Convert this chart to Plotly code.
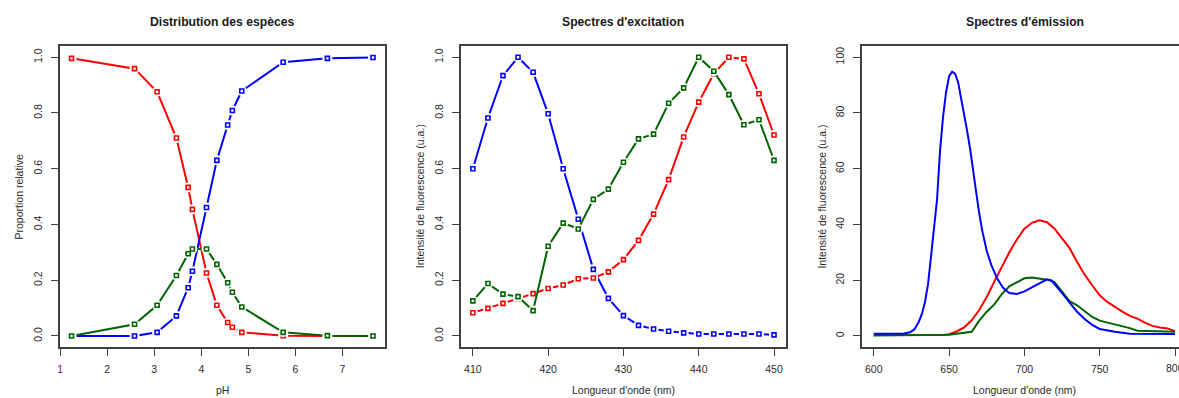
import plotly.graph_objects as go

W, H = 1179, 398

# ---------------- data ----------------
ph = [1.24, 2.58, 3.06, 3.47, 3.72, 3.81, 4.11, 4.33, 4.56, 4.66, 4.86, 5.74, 6.68, 7.65]
frac_red = [0.996, 0.959, 0.876, 0.710, 0.533, 0.454, 0.226, 0.110, 0.048, 0.031, 0.013, 0.001, 0.0, 0.0]
frac_blue = [0.0, 0.0, 0.013, 0.072, 0.173, 0.232, 0.461, 0.630, 0.757, 0.809, 0.879, 0.982, 0.996, 0.999]
frac_green = [0.0, 0.042, 0.110, 0.217, 0.295, 0.312, 0.312, 0.257, 0.191, 0.157, 0.104, 0.013, 0.001, 0.0]

exc_nm = [410, 412, 414, 416, 418, 420, 422, 424, 426, 428, 430,
          432, 434, 436, 438, 440, 442, 444, 446, 448, 450]
exc_blue = [0.600, 0.782, 0.934, 1.000, 0.946, 0.797, 0.600, 0.419, 0.239, 0.135, 0.073,
            0.038, 0.025, 0.017, 0.011, 0.007, 0.007, 0.007, 0.007, 0.007, 0.004]
exc_red = [0.083, 0.099, 0.117, 0.134, 0.152, 0.170, 0.183, 0.205, 0.208, 0.230, 0.274,
           0.343, 0.437, 0.561, 0.714, 0.839, 0.941, 1.000, 0.994, 0.869, 0.721]
exc_green = [0.126, 0.188, 0.150, 0.141, 0.091, 0.322, 0.405, 0.384, 0.490, 0.527, 0.623,
             0.707, 0.724, 0.835, 0.890, 1.000, 0.950, 0.866, 0.758, 0.776, 0.630]

em_nm = [600, 605, 610, 615, 620, 625, 630, 635, 640, 645, 650, 655, 660, 665, 670,
         675, 680, 685, 690, 695, 700, 705, 710, 715, 720, 725, 730, 735, 740, 745,
         750, 755, 760, 765, 770, 775, 780, 785, 790, 795, 800]
em_red = [0.3, 0.3, 0.3, 0.3, 0.3, 0.3, 0.3, 0.3, 0.3, 0.3, 0.6, 1.6, 3.1, 5.6, 9.3,
          14.0, 19.5, 24.8, 30.0, 34.6, 38.5, 40.6, 41.5, 40.8, 38.5, 35.0, 31.5, 26.5, 22.0, 18.2,
          14.6, 12.2, 10.3, 8.7, 7.2, 6.2, 4.8, 3.6, 3.0, 2.7, 1.7]
em_green = [0.2, 0.2, 0.2, 0.2, 0.2, 0.2, 0.2, 0.2, 0.2, 0.2, 0.4, 0.8, 1.1, 1.5, 5.5,
            8.7, 11.3, 15.0, 17.8, 19.2, 20.7, 21.0, 20.6, 20.2, 19.3, 16.0, 12.5, 11.0, 9.0, 6.8,
            5.5, 4.8, 4.2, 3.6, 2.8, 1.9, 1.8, 1.6, 1.5, 1.5, 1.5]
em_blue_nm = [600, 610, 620, 624, 627, 630, 632, 634, 636, 638, 640, 642, 644, 646, 648,
              650, 652, 654, 656, 658, 660, 662, 664, 666, 668, 670, 672, 675, 678, 682,
              686, 690, 695, 700, 705, 710, 715, 718, 722, 726, 730, 735, 740, 745, 750,
              755, 760, 770, 780, 790, 800]
em_blue = [0.8, 0.8, 0.9, 1.3, 2.4, 5.2, 8.0, 12.2, 18.5, 28.5, 39.5, 49.0, 66.5, 78.7, 87.5,
           93.2, 94.8, 94.0, 91.0, 85.5, 79.5, 73.5, 67.0, 60.0, 51.5, 44.0, 37.8, 30.5, 25.5, 20.5,
           17.2, 15.4, 15.1, 16.0, 17.5, 19.0, 20.3, 19.9, 17.5, 14.7, 12.0, 8.7, 6.1, 4.0, 2.5,
           1.9, 1.5, 0.8, 0.7, 0.7, 0.7]

titles = ["Distribution des espèces", "Spectres d'excitation", "Spectres d'émission"]
xtitles = ["pH", "Longueur d'onde (nm)", "Longueur d'onde (nm)"]
ytitles = ["Proportion relative", "Intensité de fluorescence (u.a.)", "Intensité de fluorescence (u.a.)"]

RED, BLUE, GREEN = "#FF0000", "#0000FF", "#006400"

# ---------------- layout helpers ----------------
def px(x):
    return x / W

def py(y):
    return (H - y) / H

y_dom = [py(347.1), py(46.1)]
x_doms = [[px(57.7), px(384.0)], [px(459.3), px(785.7)], [px(861.2), 1.0]]
x_ranges = [[0.987, 7.912], [408.36, 451.64], [592.0, 802.65]]
y_ranges = [[-0.04, 1.04], [-0.04, 1.04], [-4.0, 104.0]]

fig = go.Figure()

def add_b(x, y, color, ax):
    xa, ya = ("x" if ax == 1 else f"x{ax}"), ("y" if ax == 1 else f"y{ax}")
    fig.add_trace(go.Scatter(x=x, y=y, mode="lines+markers", xaxis=xa, yaxis=ya,
                             line=dict(color=color, width=2),
                             marker=dict(symbol="circle", size=10, color="white", line=dict(width=0)),
                             showlegend=False, hoverinfo="skip"))
    fig.add_trace(go.Scatter(x=x, y=y, mode="markers", xaxis=xa, yaxis=ya,
                             marker=dict(symbol="square-open", size=4, color=color,
                                         line=dict(color=color, width=1.6)),
                             showlegend=False))

add_b(ph, frac_red, RED, 1)
add_b(ph, frac_blue, BLUE, 1)
add_b(ph, frac_green, GREEN, 1)

add_b(exc_nm, exc_blue, BLUE, 2)
add_b(exc_nm, exc_red, RED, 2)
add_b(exc_nm, exc_green, GREEN, 2)

for x, y, c in [(em_nm, em_red, RED), (em_nm, em_green, GREEN), (em_blue_nm, em_blue, BLUE)]:
    fig.add_trace(go.Scatter(x=x, y=y, mode="lines", xaxis="x3", yaxis="y3",
                             line=dict(color=c, width=2), showlegend=False))

AX = "#404040"
TXT = "#2a2a2a"
FONT = "Liberation Sans, Arial, sans-serif"
tickfont = dict(family=FONT, size=10.5, color=TXT)

em_ticks = [600, 650, 700, 750, 800]
xticks = [
    dict(tickvals=[1, 2, 3, 4, 5, 6, 7],
         ticktext=["<span style='color:#7a1070'>1</span>", "2", "3", "4", "5", "6", "7"]),
    dict(tickvals=[410, 420, 430, 440, 450], ticktext=["410", "420", "430", "440", "450"]),
    dict(tickvals=em_ticks, ticktext=[str(v) for v in em_ticks[:-1]] + [""]),
]
yticks = [
    dict(tickvals=[0, 0.2, 0.4, 0.6, 0.8, 1.0], ticktext=["0.0", "0.2", "0.4", "0.6", "0.8", "1.0"]),
    dict(tickvals=[0, 0.2, 0.4, 0.6, 0.8, 1.0], ticktext=["0.0", "0.2", "0.4", "0.6", "0.8", "1.0"]),
    dict(tickvals=[0, 20, 40, 60, 80, 100], ticktext=["0", "20", "40", "60", "80", "100"]),
]

layout = dict(width=W, height=H, margin=dict(l=0, r=0, t=0, b=0),
              paper_bgcolor="white", plot_bgcolor="white", showlegend=False)

for i in range(3):
    k = "" if i == 0 else str(i + 1)
    layout["xaxis" + k] = dict(domain=x_doms[i], range=x_ranges[i], anchor="y" + k,
                               showgrid=False, zeroline=False, showline=True, mirror=True,
                               linecolor=AX, linewidth=1.5, ticks="outside", ticklen=7,
                               tickwidth=1.2, tickcolor=AX, tickfont=tickfont,
                               ticklabelstandoff=5, tickmode="array", **xticks[i])
    layout["yaxis" + k] = dict(domain=y_dom, range=y_ranges[i], anchor="x" + k,
                               showgrid=False, zeroline=False, showline=True,
                               mirror=(i < 2), linecolor=AX, linewidth=1.5,
                               ticks="outside", ticklen=7, tickwidth=1.2, tickcolor=AX,
                               tickfont=tickfont, tickangle=-90, ticklabelstandoff=5,
                               tickmode="array", **yticks[i])

fig.update_layout(**layout)

title_x = [220.8, 622.5, 1024.5]
xt_x = [220.8, 622.5, 1024.5]
yt_x = [17.0, 418.5, 820.5]
ann = []
for i in range(3):
    ann.append(dict(text="<b>" + titles[i] + "</b>", x=px(title_x[i]), y=py(22.5),
                    xref="paper", yref="paper", showarrow=False, xanchor="center", yanchor="middle",
                    font=dict(family=FONT, size=12.2, color="#1a1a1a")))
    ann.append(dict(text=xtitles[i], x=px(xt_x[i]), y=py(389.5), xref="paper", yref="paper",
                    showarrow=False, xanchor="center", yanchor="middle",
                    font=dict(family=FONT, size=10.5, color=TXT)))
    ann.append(dict(text=ytitles[i], x=px(yt_x[i]), y=py(196.5), xref="paper", yref="paper",
                    showarrow=False, xanchor="center", yanchor="middle", textangle=-90,
                    font=dict(family=FONT, size=10.5, color=TXT)))
# last emission tick label, partly cut by the figure edge as in the reference
ann.append(dict(text=str(em_ticks[-1]), x=em_ticks[-1], y=py(367.5), xref="x3", yref="paper",
                showarrow=False, xanchor="center", yanchor="middle",
                font=dict(family=FONT, size=10.5, color=TXT)))
fig.update_layout(annotations=ann)

fig.write_html("out.html")
